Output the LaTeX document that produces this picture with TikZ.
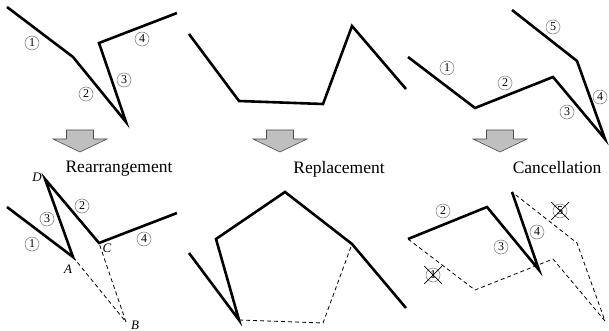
\documentclass[tikz,border=0pt]{standalone}
\usepackage{fontspec}
\setmainfont{Liberation Serif}
\usetikzlibrary{shapes.misc}
\begin{document}
\begin{tikzpicture}[x=1pt,y=-1pt,
  linkline/.style={line width=2.6pt},
  ghost/.style={line width=0.8pt, dash pattern=on 4pt off 3pt},
  num/.style={circle, draw=black!55, line width=0.5pt, minimum size=14pt, inner sep=0pt, font=\fontsize{12}{12}\selectfont},
  vlabel/.style={font=\fontsize{13}{13}\selectfont\itshape},
  opname/.style={anchor=base, font=\fontsize{17.5}{20}\selectfont},
  blockarrow/.style={fill=gray!50, draw=gray!60!black, line width=0.6pt},
  crossnum/.style={cross out, draw, line width=0.7pt, minimum size=17pt}]
\useasboundingbox (0,0) rectangle (609,331);

% top row: the three starting chains
\coordinate (p1) at (7,7);
\coordinate (p2) at (73,57);
\coordinate (p3) at (126,122);
\coordinate (p4) at (99,43);
\coordinate (p5) at (177,13);
\draw[linkline] (p1) -- (p2) -- (p3) -- (p4) -- (p5);
\node[num] (n1) at (32,43) {1};
\node[num] (n2) at (86,94) {2};
\node[num] (n3) at (124,80) {3};
\node[num] (n4) at (142,39) {4};

\coordinate (q1) at (189,34);
\coordinate (q2) at (239,101);
\coordinate (q3) at (323,104);
\coordinate (q4) at (352,26);
\coordinate (q5) at (406,89);
\draw[linkline] (q1) -- (q2) -- (q3) -- (q4) -- (q5);

\coordinate (r1) at (408,57);
\coordinate (r2) at (475,108);
\coordinate (r3) at (553,77);
\coordinate (r4) at (605,139);
\coordinate (r5) at (577,61);
\coordinate (r6) at (512,10);
\draw[linkline] (r1) -- (r2) -- (r3) -- (r4) -- (r5) -- (r6);
\node[num] (m1) at (447,68) {1};
\node[num] (m2) at (505,83) {2};
\node[num] (m3) at (567,112) {3};
\node[num] (m4) at (600,97) {4};
\node[num] (m5) at (553,27) {5};

% arrows and operation names
\foreach \cx in {80,280,500}
  \draw[blockarrow, shift={(\cx,130)}] (-13.5,0) -- (13.5,0) -- (13.5,9) -- (27,9)
    -- (0,22) -- (-27,9) -- (-13.5,9) -- cycle;
\node[opname] (rearr) at (119,172) {Rearrangement};
\node[opname] (repl) at (339,173) {Replacement};
\node[opname] (canc) at (557,173) {Cancellation};

% bottom left: rearrangement
\coordinate (a1) at (7,207);
\coordinate (A) at (73,257);
\coordinate (B) at (126,322);
\coordinate (C) at (99,243);
\coordinate (a5) at (177,213);
\coordinate (D) at (45,179);
\draw[ghost] (A) -- (B) -- (C);
\draw[linkline] (a1) -- (A) -- (D) -- (C) -- (a5);
\node[vlabel] (lD) at (37,177) {D};
\node[vlabel] (lA) at (68,269) {A};
\node[vlabel] (lC) at (107,248) {C};
\node[vlabel] (lB) at (135,325) {B};
\node[num] (k1) at (32,244) {1};
\node[num] (k3) at (47,219) {3};
\node[num] (k2) at (82,206) {2};
\node[num] (k4) at (144,239) {4};

% bottom middle: replacement
\coordinate (s1) at (189,253);
\coordinate (s2) at (239,320);
\coordinate (s3) at (323,323);
\coordinate (s4) at (352,244);
\coordinate (s5) at (406,308);
\coordinate (v1) at (216,239);
\coordinate (v2) at (285,192);
\draw[ghost] (s2) -- (s3) -- (s4);
\draw[linkline] (s1) -- (s2) -- (v1) -- (v2) -- (s4) -- (s5);

% bottom right: cancellation
\coordinate (t1) at (408,239);
\coordinate (t2) at (475,290);
\coordinate (t3) at (553,259);
\coordinate (t4) at (605,321);
\coordinate (t5) at (577,243);
\coordinate (t6) at (512,192);
\coordinate (u1) at (487,207);
\coordinate (u2) at (539,270);
\draw[ghost] (t1) -- (t2) -- (t3) -- (t4) -- (t5) -- (t6);
\draw[linkline] (t1) -- (u1) -- (u2) -- (t6);
\node[num] (c2) at (443,211) {2};
\node[num] (c3) at (501,247) {3};
\node[num] (c4) at (537,232) {4};
\node[num] (c1) at (433,275) {1};
\node[num] (c5) at (560,211) {5};
\node[crossnum] (x1) at (c1) {};
\node[crossnum] (x5) at (c5) {};
\end{tikzpicture}
\end{document}
